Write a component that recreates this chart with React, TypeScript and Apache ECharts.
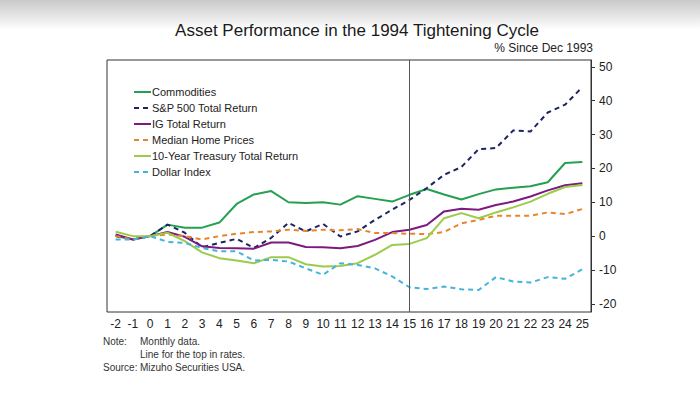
import React, { useEffect, useRef } from "react";
import * as echarts from "echarts";

const months = ["-2","-1","0","1","2","3","4","5","6","7","8","9","10","11","12","13","14","15","16","17","18","19","20","21","22","23","24","25"];
const commodities = [0, -1, 0, 3.4, 2.5, 2.5, 4, 9.5, 12.3, 13.3, 10, 9.8, 10, 9.3, 11.8, 11, 10.2, 12.2, 13.9, 12.3, 10.8, 12.4, 13.8, 14.3, 14.7, 15.9, 21.6, 21.9];
const sp500 = [0, -1, 0, 3.4, 1, -3.3, -2, -0.8, -3.5, -0.5, 3.9, 1.4, 3.6, -0.1, 1.4, 4.8, 7.8, 10.7, 14.2, 18.1, 20.4, 25.7, 26, 31.2, 30.9, 36.5, 38.8, 44];
const igReturn = [0.5, -1, 0, 1.2, -0.2, -3, -3.5, -3.6, -3.7, -1.9, -1.9, -3.2, -3.3, -3.6, -2.9, -1.1, 1.2, 1.9, 3.3, 7.3, 8.1, 7.8, 9.2, 10.2, 11.7, 13.5, 15, 15.6];
const homePrices = [0, -1, 0, 0.5, 0, -1, 0, 0.7, 1.2, 1.4, 1.9, 1.5, 1.9, 1.7, 2.1, 0.9, 0.9, 0.7, 0.6, 1.2, 3.8, 4.8, 6, 6, 6, 7, 6.5, 8];
const treasury = [1.3, 0, 0, 1, -1.5, -4.8, -6.5, -7.2, -8, -6.2, -6.2, -8.3, -9, -8.8, -8, -5.5, -2.6, -2.3, -0.6, 5.3, 6.8, 5.3, 7, 8.5, 10.2, 12.5, 14.5, 15.1];
const dollarIndex = [-1, -1, 0, -1.7, -2, -3.5, -4.5, -4.5, -7.2, -7, -7.5, -9.5, -11.4, -8, -8.5, -9.5, -11.9, -15.1, -15.6, -14.9, -15.7, -15.9, -12.1, -13.4, -13.7, -12.1, -12.6, -9.8];
const yTicks = [-20, -10, 0, 10, 20, 30, 40, 50];
const rateTop = "15";

const FONT = "Liberation Sans, Arial, sans-serif";

export default function App() {
  const ref = useRef<HTMLDivElement>(null);
  useEffect(() => {
    if (!ref.current) return;
    const chart = echarts.init(ref.current, null, { renderer: "svg" });
    const mk = (name: string, data: number[], color: string, dashed: boolean, width = 2) => ({
      name,
      type: "line",
      data,
      symbol: "none",
      lineStyle: { color, width, type: dashed ? [5, 4] : "solid" },
      itemStyle: { color },
      z: 3,
    });
    const txt = (left: number, top: number, text: string) => ({
      type: "text", left, top,
      style: { text, fontSize: 10, fill: "#333", fontFamily: FONT },
    });
    chart.setOption({
      animation: false,
      backgroundColor: "#ffffff",
      textStyle: { fontFamily: FONT },
      graphic: [
        {
          type: "rect",
          shape: { x: 0, y: 0, width: 700, height: 30 },
          style: {
            fill: {
              type: "linear", x: 0, y: 0, x2: 0, y2: 1,
              colorStops: [
                { offset: 0, color: "#c9c9c9" },
                { offset: 1, color: "#ffffff" },
              ],
            },
          },
          z: -10,
        },
        txt(103, 336, "Note:"),
        txt(140, 336, "Monthly data."),
        txt(140, 349, "Line for the top in rates."),
        txt(103, 362, "Source:"),
        txt(140, 362, "Mizuho Securities USA."),
        {
          type: "text", right: 107, top: 42,
          style: { text: "% Since Dec 1993", fontSize: 12, fill: "#222", fontFamily: FONT },
        },
      ],
      title: {
        text: "Asset Performance in the 1994 Tightening Cycle",
        left: 357,
        textAlign: "center",
        top: 21,
        padding: 0,
        textStyle: { fontSize: 17, fontWeight: "normal", color: "#1a1a1a", fontFamily: FONT, lineHeight: 19 },
      },
      legend: {
        orient: "vertical",
        left: 133,
        top: 86,
        padding: 0,
        itemWidth: 17,
        itemHeight: 12,
        itemGap: 4,
        itemStyle: { opacity: 0 },
        textStyle: { fontSize: 11, color: "#222", fontFamily: FONT, padding: [0, 0, 0, -4], lineHeight: 12, height: 12 },
        data: ["Commodities", "S&P 500 Total Return", "IG Total Return", "Median Home Prices", "10-Year Treasury Total Return", "Dollar Index"],
      },
      grid: {
        left: 107,
        right: 109,
        top: 60,
        bottom: 83,
        show: true,
        borderColor: "#333",
        borderWidth: 1,
        backgroundColor: "transparent",
      },
      xAxis: {
        type: "category",
        data: months,
        boundaryGap: true,
        axisLine: { show: false, onZero: false },
        axisTick: { show: false },
        axisLabel: { color: "#222", fontSize: 12, margin: 6, interval: 0, fontFamily: FONT },
        splitLine: { show: false },
      },
      yAxis: {
        type: "value",
        position: "right",
        min: -22.4,
        max: 52,
        axisLine: { show: true, lineStyle: { color: "#333" } },
        axisTick: { show: true, length: 4, lineStyle: { color: "#333" }, customValues: yTicks },
        axisLabel: { color: "#222", fontSize: 12, margin: 8, customValues: yTicks, fontFamily: FONT },
        splitLine: { show: false },
      },
      series: [
        {
          ...mk("Commodities", commodities, "#24a050", false),
          markLine: {
            silent: true,
            symbol: "none",
            label: { show: false },
            lineStyle: { color: "#555", width: 1, type: "solid" },
            data: [{ xAxis: rateTop }],
          },
        },
        mk("S&P 500 Total Return", sp500, "#1c2463", true),
        mk("IG Total Return", igReturn, "#7d1a80", false),
        mk("Median Home Prices", homePrices, "#e8852c", true),
        mk("10-Year Treasury Total Return", treasury, "#9ccb4a", false),
        mk("Dollar Index", dollarIndex, "#45b4dc", true),
      ],
    });
    return () => chart.dispose();
  }, []);
  return <div ref={ref} style={{ position: "absolute", left: 0, top: 0, width: 700, height: 395 }} />;
}
